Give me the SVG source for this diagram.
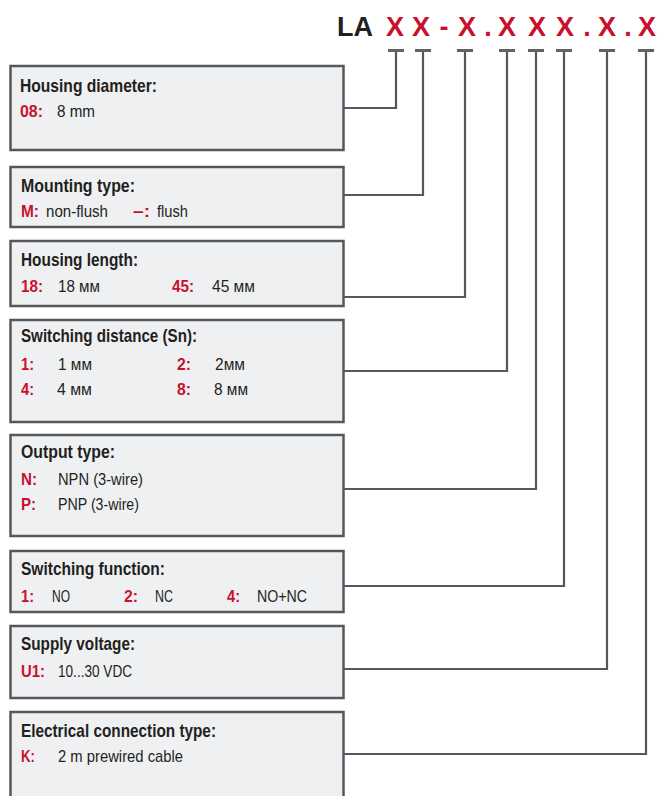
<svg xmlns="http://www.w3.org/2000/svg" width="660" height="796" viewBox="0 0 660 796">
<style>
.box{fill:#eff0f2;stroke:#54585c;stroke-width:2.5}
.ln{fill:none;stroke:#54585c;stroke-width:2.2}
.tb{fill:none;stroke:#5f6367;stroke-width:3}
.h{font-family:"Liberation Sans Narrow","Liberation Sans",Arial,sans-serif;font-weight:bold;font-size:19px;fill:#231f20}
.k{font-family:"Liberation Sans Narrow","Liberation Sans",Arial,sans-serif;font-weight:bold;font-size:17px;fill:#c8102e}
.v{font-family:"Liberation Sans Narrow","Liberation Sans",Arial,sans-serif;font-size:17px;fill:#231f20}
.code{font-family:"Liberation Sans",Arial,sans-serif;font-weight:bold;font-size:27px;text-anchor:middle;fill:#c8102e}
</style>
<rect width="660" height="796" fill="#ffffff"/>
<g id="code">
<text class="code" x="355" y="36" style="fill:#231f20">LA</text>
<text class="code" x="395" y="36">X</text>
<text class="code" x="421" y="36">X</text>
<text class="code" x="444" y="36">-</text>
<text class="code" x="467" y="36">X</text>
<text class="code" x="488" y="36">.</text>
<text class="code" x="507" y="36">X</text>
<text class="code" x="537" y="36">X</text>
<text class="code" x="565" y="36">X</text>
<text class="code" x="587" y="36">.</text>
<text class="code" x="607" y="36">X</text>
<text class="code" x="628" y="36">.</text>
<text class="code" x="647" y="36">X</text>
</g>
<g id="connectors">
<polyline class="ln" points="344,108 396,108 396,50"/>
<polyline class="ln" points="344,195 423,195 423,50"/>
<polyline class="ln" points="344,297 465,297 465,50"/>
<polyline class="ln" points="344,371 507,371 507,50"/>
<polyline class="ln" points="344,489 536,489 536,50"/>
<polyline class="ln" points="344,586 564,586 564,50"/>
<polyline class="ln" points="344,669 607,669 607,50"/>
<polyline class="ln" points="344,754 646,754 646,50"/>
<path class="tb" d="M388,50.5H404M415,50.5H431M457,50.5H473M499,50.5H515M528,50.5H544M556,50.5H572M599,50.5H615M638,50.5H654"/>
</g>
<g id="n1">
<rect class="box" x="10.5" y="66" width="333" height="84"/>
<text class="h" x="20" y="92" textLength="137" lengthAdjust="spacingAndGlyphs">Housing diameter:</text>
<text class="k" x="20" y="117" textLength="23" lengthAdjust="spacingAndGlyphs">08:</text>
<text class="v" x="57" y="117" textLength="38" lengthAdjust="spacingAndGlyphs">8 mm</text>
</g>
<g id="n2">
<rect class="box" x="10.5" y="167" width="333" height="60"/>
<text class="h" x="21" y="192" textLength="114" lengthAdjust="spacingAndGlyphs">Mounting type:</text>
<text class="k" x="21" y="217" textLength="18" lengthAdjust="spacingAndGlyphs">M:</text>
<text class="v" x="46" y="217" textLength="62" lengthAdjust="spacingAndGlyphs">non-flush</text>
<text class="k" x="133" y="217" textLength="17" lengthAdjust="spacingAndGlyphs">–:</text>
<text class="v" x="157" y="217" textLength="31" lengthAdjust="spacingAndGlyphs">flush</text>
</g>
<g id="n3">
<rect class="box" x="10.5" y="241" width="333" height="65"/>
<text class="h" x="21" y="266" textLength="117" lengthAdjust="spacingAndGlyphs">Housing length:</text>
<text class="k" x="21" y="292" textLength="22" lengthAdjust="spacingAndGlyphs">18:</text>
<text class="v" x="58" y="292" textLength="42" lengthAdjust="spacingAndGlyphs">18 мм</text>
<text class="k" x="172" y="292" textLength="22" lengthAdjust="spacingAndGlyphs">45:</text>
<text class="v" x="212" y="292" textLength="43" lengthAdjust="spacingAndGlyphs">45 мм</text>
</g>
<g id="n4">
<rect class="box" x="10.5" y="320" width="333" height="102"/>
<text class="h" x="21" y="342" textLength="176" lengthAdjust="spacingAndGlyphs">Switching distance (Sn):</text>
<text class="k" x="21" y="370" textLength="13" lengthAdjust="spacingAndGlyphs">1:</text>
<text class="v" x="58" y="370" textLength="34" lengthAdjust="spacingAndGlyphs">1 мм</text>
<text class="k" x="177" y="370" textLength="14" lengthAdjust="spacingAndGlyphs">2:</text>
<text class="v" x="215" y="370" textLength="30" lengthAdjust="spacingAndGlyphs">2мм</text>
<text class="k" x="21" y="395" textLength="13" lengthAdjust="spacingAndGlyphs">4:</text>
<text class="v" x="57" y="395" textLength="35" lengthAdjust="spacingAndGlyphs">4 мм</text>
<text class="k" x="177" y="395" textLength="14" lengthAdjust="spacingAndGlyphs">8:</text>
<text class="v" x="214" y="395" textLength="34" lengthAdjust="spacingAndGlyphs">8 мм</text>
</g>
<g id="n5">
<rect class="box" x="10.5" y="435" width="333" height="101"/>
<text class="h" x="21" y="458" textLength="94" lengthAdjust="spacingAndGlyphs">Output type:</text>
<text class="k" x="21" y="485" textLength="16" lengthAdjust="spacingAndGlyphs">N:</text>
<text class="v" x="58" y="485" textLength="85" lengthAdjust="spacingAndGlyphs">NPN (3-wire)</text>
<text class="k" x="21" y="510" textLength="15" lengthAdjust="spacingAndGlyphs">P:</text>
<text class="v" x="58" y="510" textLength="81" lengthAdjust="spacingAndGlyphs">PNP (3-wire)</text>
</g>
<g id="n6">
<rect class="box" x="10.5" y="551" width="333" height="61"/>
<text class="h" x="21" y="575" textLength="144" lengthAdjust="spacingAndGlyphs">Switching function:</text>
<text class="k" x="21" y="602" textLength="13" lengthAdjust="spacingAndGlyphs">1:</text>
<text class="v" x="52" y="602" textLength="18" lengthAdjust="spacingAndGlyphs">NO</text>
<text class="k" x="124" y="602" textLength="14" lengthAdjust="spacingAndGlyphs">2:</text>
<text class="v" x="155" y="602" textLength="18" lengthAdjust="spacingAndGlyphs">NC</text>
<text class="k" x="227" y="602" textLength="13" lengthAdjust="spacingAndGlyphs">4:</text>
<text class="v" x="257" y="602" textLength="50" lengthAdjust="spacingAndGlyphs">NO+NC</text>
</g>
<g id="n7">
<rect class="box" x="10.5" y="626" width="333" height="72"/>
<text class="h" x="21" y="650" textLength="114" lengthAdjust="spacingAndGlyphs">Supply voltage:</text>
<text class="k" x="21" y="677" textLength="24" lengthAdjust="spacingAndGlyphs">U1:</text>
<text class="v" x="58" y="677" textLength="74" lengthAdjust="spacingAndGlyphs">10...30 VDC</text>
</g>
<g id="n8">
<rect class="box" x="10.5" y="712" width="333" height="100"/>
<text class="h" x="21" y="737" textLength="195" lengthAdjust="spacingAndGlyphs">Electrical connection type:</text>
<text class="k" x="21" y="762" textLength="14" lengthAdjust="spacingAndGlyphs">K:</text>
<text class="v" x="58" y="762" textLength="125" lengthAdjust="spacingAndGlyphs">2 m prewired cable</text>
</g>
</svg>
